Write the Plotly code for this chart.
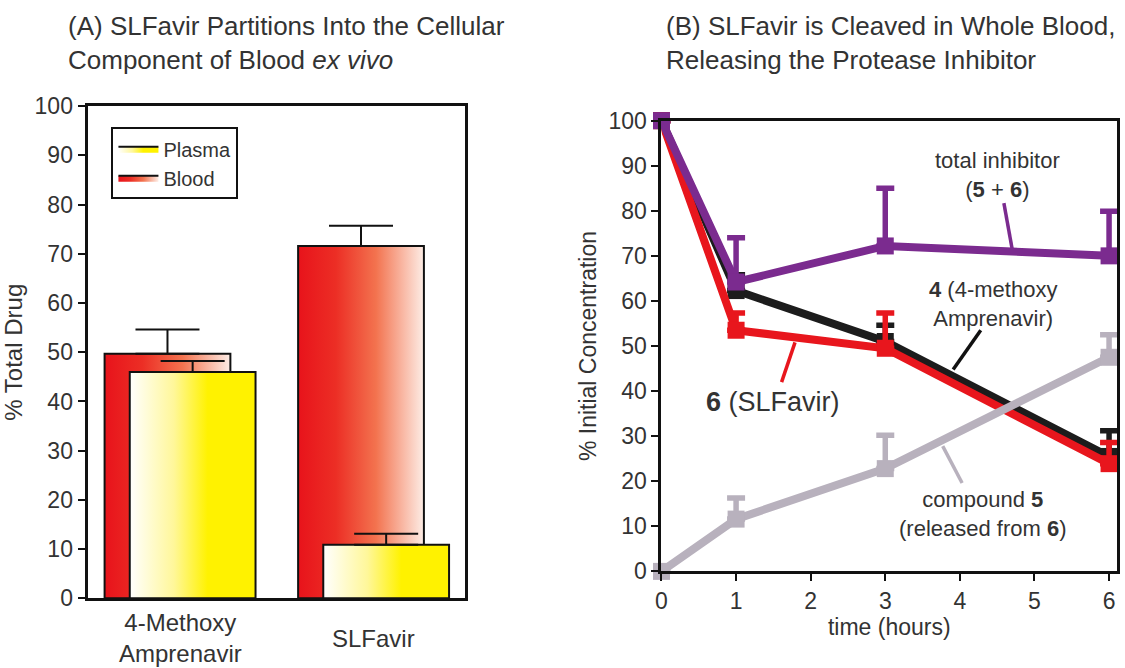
import plotly.graph_objects as go

# ---------------- Panel A data ----------------
categories = ["4-Methoxy<br>Amprenavir", "SLFavir"]
blood = [49.7, 71.6]
blood_err = [4.9, 4.1]
plasma = [46.0, 10.9]
plasma_err = [2.2, 2.2]

# ---------------- Panel B data ----------------
time_h = [0, 1, 3, 6]
cmpd4 = [100, 62.3, 51.0, 25.5]          # 4 (4-methoxy Amprenavir)
cmpd4_err = [0, 3.5, 3.6, 5.7]
cmpd6 = [100, 53.5, 49.5, 23.9]          # 6 (SLFavir)
cmpd6_err = [0, 3.8, 7.8, 4.7]
cmpd5 = [0, 11.6, 22.8, 47.5]            # compound 5
cmpd5_err = [0, 4.7, 7.4, 5.0]
total_inhib = [100, 64.2, 72.2, 70.0]    # total inhibitor (5 + 6)
total_inhib_err = [0, 9.8, 12.8, 9.9]

TXT = "#333333"
FONT = "Liberation Sans, Arial, sans-serif"
W, H = 1125, 668

blood_scale = [[0, "#E8131B"], [0.3, "#EC2E25"], [0.62, "#F3734F"], [1, "#FDEDE6"]]
plasma_scale = [[0, "#FFFFFF"], [0.35, "#FFF79A"], [0.62, "#FFF200"], [1, "#FFF200"]]

fig = go.Figure()

BAR_W = 0.65
series_a = [
    ("Blood", blood, blood_err, blood_scale, -0.065, 2),
    ("Plasma", plasma, plasma_err, plasma_scale, 0.065, 1),
]
for name, vals, errs, scale, off, rank in series_a:
    for i, v in enumerate(vals):
        c = i + off
        fig.add_trace(go.Scatter(
            x=[c - BAR_W / 2, c + BAR_W / 2, c + BAR_W / 2, c - BAR_W / 2, c - BAR_W / 2],
            y=[0, 0, v, v, 0],
            mode="lines", fill="toself",
            fillgradient=dict(type="horizontal", colorscale=scale),
            line=dict(color="#111111", width=2),
            name=name, legendgroup=name, showlegend=(i == 0), legendrank=rank,
            xaxis="x", yaxis="y", hoverinfo="skip",
        ))
    fig.add_trace(go.Scatter(
        x=[i + off for i in range(len(vals))], y=vals, mode="markers",
        marker=dict(size=1, color="rgba(0,0,0,0)"),
        error_y=dict(type="data", array=errs, arrayminus=[0] * len(vals), symmetric=False,
                     color="#111111", thickness=2, width=32),
        showlegend=False, xaxis="x", yaxis="y", name=name,
    ))

# Panel B lines
series_b = [
    ("4 (4-methoxy Amprenavir)", cmpd4, cmpd4_err, "#1C1C1C"),
    ("6 (SLFavir)", cmpd6, cmpd6_err, "#E8161D"),
    ("compound 5", cmpd5, cmpd5_err, "#B8B1BD"),
    ("total inhibitor (5 + 6)", total_inhib, total_inhib_err, "#7B2B8F"),
]
for name, vals, errs, col in series_b:
    fig.add_trace(go.Scatter(
        x=time_h, y=vals, mode="lines+markers", name=name,
        line=dict(color=col, width=8),
        marker=dict(symbol="square", size=17, color=col),
        error_y=dict(type="data", array=errs, arrayminus=[0] * len(vals), symmetric=False,
                     color=col, thickness=5.5, width=9),
        cliponaxis=False, showlegend=False, xaxis="x2", yaxis="y2",
    ))

axis_common = dict(showline=True, linecolor="#111111", linewidth=3, mirror=True,
                   ticks="outside", ticklen=7, tickwidth=2, tickcolor="#111111",
                   showgrid=False, zeroline=False,
                   tickfont=dict(size=23, color=TXT, family=FONT))

A_L, A_R, A_T, A_B = 82, 461, 97, 609
B_L, B_R, B_T, B_B = 659, 1117, 112, 581

fig.update_layout(
    width=W, height=H,
    margin=dict(l=0, r=0, t=0, b=0),
    paper_bgcolor="white", plot_bgcolor="white",
    font=dict(family=FONT, color=TXT),
    xaxis=dict(domain=[A_L / W, A_R / W], range=[-0.478, 1.47], showticklabels=False,
               showline=True, linecolor="#111111", linewidth=3, mirror=True,
               ticks="", showgrid=False, zeroline=False),
    yaxis=dict(domain=[1 - A_B / H, 1 - A_T / H], range=[0, 100], dtick=10,
               title=dict(text="% Total Drug", font=dict(size=24, color=TXT), standoff=8),
               **axis_common),
    xaxis2=dict(domain=[B_L / W, B_R / W], range=[0, 6.107], dtick=1, anchor="y2",
                title=dict(text="time (hours)", font=dict(size=23, color=TXT), standoff=3),
                **axis_common),
    yaxis2=dict(domain=[1 - B_B / H, 1 - B_T / H], range=[0, 100], dtick=10, anchor="x2",
                title=dict(text="% Initial Concentration", font=dict(size=23, color=TXT), standoff=6),
                **axis_common),
    legend=dict(x=(A_L + 24) / W, y=1 - 119 / H, xanchor="left", yanchor="top",
                bgcolor="white", bordercolor="#111111", borderwidth=2,
                itemwidth=40, tracegroupgap=0, entrywidth=100, entrywidthmode="pixels",
                font=dict(size=20, color=TXT)),
)

annotations = []
# panel titles
annotations.append(dict(text="(A) SLFavir Partitions Into the Cellular<br>Component of Blood <i>ex vivo</i>",
                        xref="paper", yref="paper", x=60 / W, y=1 + 4 / H,
                        xanchor="left", yanchor="top", align="left", showarrow=False,
                        font=dict(size=26, color=TXT)))
annotations.append(dict(text="(B) SLFavir is Cleaved in Whole Blood,<br>Releasing the Protease Inhibitor",
                        xref="paper", yref="paper", x=662 / W, y=1 + 4 / H,
                        xanchor="left", yanchor="top", align="left", showarrow=False,
                        font=dict(size=26, color=TXT)))
# category labels (panel A)
for i, cat in enumerate(categories):
    annotations.append(dict(text=cat, xref="x", yref="y", x=i, y=0, yshift=-40,
                            xanchor="center", yanchor="middle", showarrow=False,
                            font=dict(size=24, color=TXT)))
# panel B labels
annotations += [
    dict(text="total inhibitor<br>(<b>5</b> + <b>6</b>)", x=4.5, y=88, xref="x2", yref="y2",
         showarrow=False, font=dict(size=22, color=TXT)),
    dict(text="<b>4</b> (4-methoxy<br>Amprenavir)", x=4.45, y=59.4, xref="x2", yref="y2",
         showarrow=False, font=dict(size=22, color=TXT)),
    dict(text="<b>6</b> (SLFavir)", x=1.5, y=37.5, xref="x2", yref="y2",
         showarrow=False, font=dict(size=27, color=TXT)),
    dict(text="compound <b>5</b><br>(released from <b>6</b>)", x=4.31, y=12.7, xref="x2", yref="y2",
         showarrow=False, font=dict(size=22, color=TXT)),
]
fig.update_layout(annotations=annotations)

# leader lines
leaders = [
    (4.59, 81.7, 4.70, 71.6, "#7B2B8F"),
    (4.28, 53.5, 3.91, 44.8, "#111111"),
    (1.79, 50.8, 1.61, 42.0, "#E8161D"),
    (4.03, 19.6, 3.77, 27.8, "#B8B1BD"),
]
for x0, y0, x1, y1, col in leaders:
    fig.add_shape(type="line", xref="x2", yref="y2", x0=x0, y0=y0, x1=x1, y1=y1,
                  line=dict(color=col, width=3.5))

fig.write_html("out.html")
